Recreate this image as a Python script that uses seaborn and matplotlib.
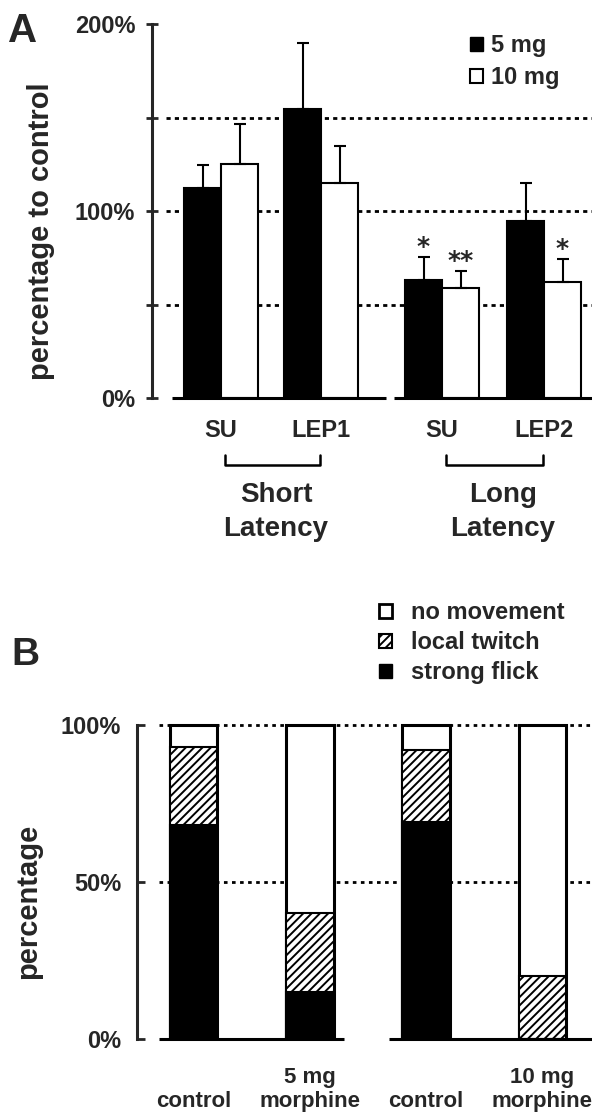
import numpy as np
import pandas as pd
import matplotlib
matplotlib.use("Agg")
import matplotlib.pyplot as plt
from matplotlib.patches import Patch
import seaborn as sns

# ---------------- data : panel A ----------------
groups = ["SU", "LEP1", "SU", "LEP2"]
latency_labels = ["Short\nLatency", "Long\nLatency"]
doses = ["5 mg", "10 mg"]
mean_5mg = [112.3, 154.5, 63.1, 94.7]
mean_10mg = [125.1, 115.0, 58.8, 62.0]
sem_5mg = [12.3, 35.3, 12.3, 20.3]
sem_10mg = [21.4, 19.8, 9.1, 12.3]
stars_5mg = ["", "", "*", ""]
stars_10mg = ["", "", "**", "*"]
a_yticks = [0, 50, 100, 150, 200]
a_yticklabels = ["0%", "", "100%", "", "200%"]
a_gridlines = [50, 100, 150]

# ---------------- data : panel B ----------------
conditions = ["control_5", "morphine_5", "control_10", "morphine_10"]
condition_labels = ["\ncontrol", "5 mg\nmorphine", "\ncontrol", "10 mg\nmorphine"]
strong_flick = [68, 15, 69, 0]
local_twitch = [25, 25, 23, 20]
no_movement = [7, 60, 8, 80]
response_labels = ["no movement", "local twitch", "strong flick"]
b_yticks = [0, 50, 100]
b_yticklabels = ["0%", "50%", "100%"]
b_gridlines = [50, 100]

# ---------------- style ----------------
sns.set_style("ticks")
plt.rcParams["font.family"] = ["Liberation Sans", "DejaVu Sans"]
plt.rcParams["font.weight"] = "bold"
plt.rcParams["hatch.linewidth"] = 1.4

W, H = 592, 1113
fig = plt.figure(figsize=(W / 100, H / 100), dpi=100)


def rect(l, t, r, b):
    return [l / W, 1 - b / H, (r - l) / W, (b - t) / H]


axA = fig.add_axes(rect(152, 24, 592, 398))
b_top = 1039 - 100.5 * 3.14
axB = fig.add_axes(rect(137, b_top, 592, 1039))

# ================= Panel A =================
group_pos = [0.0, 1.0, 2.21, 3.23]
dfA = pd.DataFrame({
    "pos": group_pos * 2,
    "value": mean_5mg + mean_10mg,
    "dose": [doses[0]] * 4 + [doses[1]] * 4,
})
sns.barplot(data=dfA, x="pos", y="value", hue="dose", hue_order=doses,
            palette={doses[0]: "black", doses[1]: "white"}, native_scale=True,
            width=0.74, edgecolor="black", linewidth=1.5, saturation=1,
            errorbar=None, legend=False, ax=axA, zorder=2)

sems = {doses[0]: sem_5mg, doses[1]: sem_10mg}
stars = {doses[0]: stars_5mg, doses[1]: stars_10mg}
for dose, cont in zip(doses, axA.containers):
    bars = sorted(cont.patches, key=lambda r: r.get_x())
    xs = np.array([b.get_x() + b.get_width() / 2 for b in bars])
    hs = np.array([b.get_height() for b in bars])
    err = np.array(sems[dose])
    axA.errorbar(xs, hs, yerr=[np.zeros_like(err), err], fmt="none",
                 ecolor="black", elinewidth=1.5, capsize=4.5, capthick=1.5,
                 zorder=3)
    for x, h, e, s in zip(xs, hs, err, stars[dose]):
        if s:
            axA.text(x, h + e + 1.6, s, ha="center", va="baseline",
                     fontsize=18, fontweight="bold", family="DejaVu Sans")

xlimA = (-0.69, 3.71)
for g in a_gridlines:
    axA.hlines(g, -0.55, xlimA[1], colors="black", linestyles=(0, (1.5, 1.5)),
               lw=2, zorder=0.5)

axA.set_xlim(*xlimA)
axA.set_ylim(0, 200)
axA.set_yticks(a_yticks, a_yticklabels)
axA.set_xticks(group_pos, groups)
axA.set_xlabel("")
axA.set_ylabel("percentage to control", fontsize=21, fontweight="bold",
               va="center", ha="center", rotation_mode="anchor")
axA.yaxis.set_label_coords((41 - 152) / 440, (398 - 231) / 374)
axA.tick_params(axis="y", direction="inout", length=8, width=2, pad=8,
                labelsize=17)
axA.tick_params(axis="x", length=0, pad=15, labelsize=17)
for s in ["top", "right", "bottom"]:
    axA.spines[s].set_visible(False)
axA.spines["left"].set_linewidth(2.2)
# broken baseline
for x0, x1 in [(-0.49, 1.65), (1.73, xlimA[1])]:
    axA.plot([x0, x1], [0, 0], color="black", lw=2.2, clip_on=False,
             solid_capstyle="butt", zorder=4)

# brackets + latency labels
trA = axA.get_xaxis_transform()
y_b0 = (398 - 455) / 374
y_b1 = (398 - 465) / 374
for (i0, i1), lab, dx in zip([(0, 1), (2, 3)], latency_labels, [0.05, 0.1]):
    x0 = group_pos[i0] + 0.04
    x1 = group_pos[i1] - 0.01
    axA.plot([x0, x0, x1, x1], [y_b0, y_b1, y_b1, y_b0], color="black",
             lw=1.8, transform=trA, clip_on=False, solid_joinstyle="round")
    axA.text((group_pos[i0] + group_pos[i1]) / 2 + dx, (398 - 482) / 374, lab,
             transform=trA, ha="center", va="top", fontsize=20,
             fontweight="bold", linespacing=1.38)

fig.legend(handles=[Patch(fc="black", ec="black", lw=1),
                    Patch(fc="white", ec="black", lw=1.5)],
           labels=doses, loc="upper left",
           bbox_to_anchor=(470 / W, 1 - 34 / H), frameon=False,
           prop={"size": 17, "weight": "bold"}, handlelength=0.55,
           handleheight=0.55, handletextpad=0.35, labelspacing=0.38,
           borderpad=0, borderaxespad=0)

fig.text(8 / W, 1 - 42 / H, "A", fontsize=29, fontweight="bold",
         ha="left", va="baseline")

# ================= Panel B =================
dfB = pd.DataFrame({"condition": conditions, "flick": strong_flick,
                    "twitch": local_twitch, "none": no_movement})
dfB["flick_twitch"] = dfB["flick"] + dfB["twitch"]
dfB["total"] = dfB["flick_twitch"] + dfB["none"]

common = dict(data=dfB, x="condition", order=conditions, width=0.41,
              saturation=1, errorbar=None, ax=axB)
sns.barplot(y="total", color="white", edgecolor="black", linewidth=2.2,
            zorder=2, **common)
sns.barplot(y="flick_twitch", color="white", edgecolor="black", hatch="////",
            linewidth=1.5, zorder=2.1, **common)
sns.barplot(y="flick", color="black", edgecolor="black", linewidth=1.5,
            zorder=2.2, **common)

xlimB = (-0.486, -0.486 + 455 / 116.3)
for g in b_gridlines:
    axB.hlines(g, -0.30, xlimB[1], colors="black", linestyles=(0, (1.3, 1.6)),
               lw=2, zorder=0.5)
axB.set_xlim(*xlimB)
axB.set_ylim(0, 100.5)
axB.set_yticks(b_yticks, b_yticklabels)
axB.set_xticks(range(len(conditions)), condition_labels)
axB.set_xlabel("")
axB.set_ylabel("percentage", fontsize=21, fontweight="bold",
               va="center", ha="center", rotation_mode="anchor")
axB.yaxis.set_label_coords((28 - 137) / 455, (1039 - 901) / (1039 - b_top))
axB.tick_params(axis="y", direction="in", length=6, width=2, pad=11.5,
                labelsize=17)
axB.tick_params(axis="x", length=0, pad=20, labelsize=16)
for s in ["top", "right", "bottom"]:
    axB.spines[s].set_visible(False)
axB.spines["left"].set_linewidth(2.2)
axB.spines["left"].set_bounds(0, 100)
for x0, x1 in [(-0.30, 1.29), (1.68, xlimB[1])]:
    axB.plot([x0, x1], [0, 0], color="black", lw=2.2, clip_on=False,
             solid_capstyle="butt", zorder=4)

fig.legend(handles=[Patch(fc="white", ec="black", lw=2),
                    Patch(fc="white", ec="black", hatch="////", lw=1.5),
                    Patch(fc="black", ec="black", lw=1)],
           labels=response_labels, loc="upper left",
           bbox_to_anchor=(379 / W, 1 - 601 / H), frameon=False,
           prop={"size": 17, "weight": "bold"}, handlelength=0.55,
           handleheight=0.55, handletextpad=0.8, labelspacing=0.3,
           borderpad=0, borderaxespad=0)

fig.text(11 / W, 1 - 665 / H, "B", fontsize=28, fontweight="bold",
         ha="left", va="baseline")

fig.savefig("out.png", dpi=100)
